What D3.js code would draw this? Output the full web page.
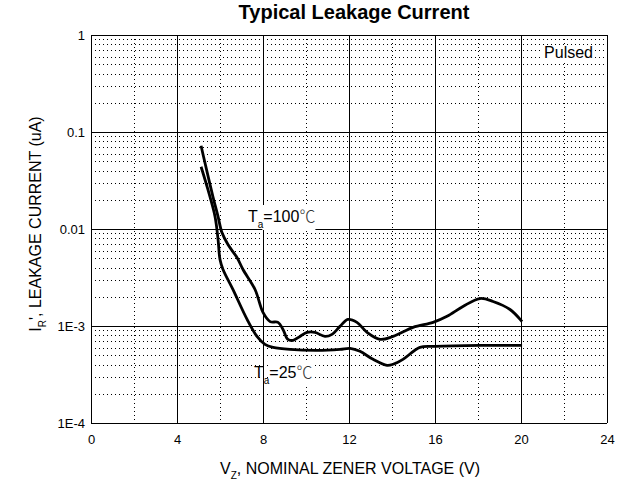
<!DOCTYPE html>
<html><head><meta charset="utf-8">
<script src="https://cdn.jsdelivr.net/npm/d3@7"></script>
<style>body{margin:0;background:#fff}svg{display:block;font-family:"Liberation Sans",Arial,sans-serif}</style>
</head><body>
<svg id="c" width="625" height="480"></svg>
<script>
const xTicks = [0, 4, 8, 12, 16, 20, 24];
const xMinorTicks = [2, 6, 10, 14, 18, 22];
const yTicks = [1e-4, 1e-3, 1e-2, 1e-1, 1];
const yTickLabels = ["1E-4", "1E-3", "0.01", "0.1", "1"];

const v100 = [5.12,5.30,5.67,5.91,6.09,6.37,6.79,7.07,7.63,8.00,8.33,8.70,8.93,9.16,9.40,9.72,10.05,10.42,10.88,11.21,11.58,11.95,12.37,12.84,13.44,14.05,14.98,15.91,16.56,17.30,18.09,18.70,19.49,20.05];
const i100 = [0.0721,0.0482,0.0216,0.0134,0.00918,0.00691,0.00508,0.00382,0.00238,0.00138,0.00111,0.00109,0.000922,0.000728,0.000711,0.000781,0.000859,0.000859,0.000781,0.000820,0.000991,0.00117,0.00109,0.000859,0.000728,0.000781,0.000968,0.00109,0.00126,0.00159,0.00192,0.00179,0.00148,0.00111];
const v25 = [5.12,5.44,5.77,5.91,6.00,6.14,6.60,7.26,7.72,8.09,8.47,9.26,10.51,11.58,12.05,12.51,13.12,13.77,14.05,14.51,15.30,16.00,18.09,20.05];
const i25 = [0.0438,0.0254,0.0134,0.00778,0.00484,0.00382,0.00238,0.00117,0.000781,0.000647,0.000603,0.000574,0.000561,0.000574,0.000588,0.000548,0.000453,0.000393,0.000403,0.000453,0.000603,0.000617,0.000631,0.000631];

const FONT = "'Liberation Sans', Arial, sans-serif";
const CJK = "'Noto Sans CJK SC', sans-serif";
const svg = d3.select("#c");
const x = d3.scaleLinear().domain([0, 24]).range([91, 607]);
const y = d3.scaleLog().domain([1e-4, 1]).range([423, 35]);

const grid = svg.append("g");
const labels = svg.append("g");
const marks = svg.append("g");

const minorY = [];
for (let d = -4; d < 0; d++) for (let k = 2; k <= 9; k++) minorY.push(k * Math.pow(10, d));
grid.selectAll("line.my").data(minorY).enter().append("line")
  .attr("x1", x(0)).attr("x2", x(24))
  .attr("y1", d => Math.round(y(d)) + 0.5).attr("y2", d => Math.round(y(d)) + 0.5)
  .attr("stroke", "#000").attr("stroke-width", 1).attr("stroke-dasharray", "1,3");
grid.selectAll("line.mx").data(xMinorTicks).enter().append("line")
  .attr("y1", y(1)).attr("y2", y(1e-4))
  .attr("x1", d => Math.round(x(d)) + 0.5).attr("x2", d => Math.round(x(d)) + 0.5)
  .attr("stroke", "#000").attr("stroke-width", 1).attr("stroke-dasharray", "1,3");
grid.selectAll("line.Mx").data(xTicks).enter().append("line")
  .attr("y1", y(1)).attr("y2", y(1e-4))
  .attr("x1", d => Math.round(x(d)) + 0.5).attr("x2", d => Math.round(x(d)) + 0.5)
  .attr("stroke", "#000").attr("stroke-width", 1);
grid.selectAll("line.My").data(yTicks).enter().append("line")
  .attr("x1", x(0)).attr("x2", x(24))
  .attr("y1", d => Math.round(y(d)) + 0.5).attr("y2", d => Math.round(y(d)) + 0.5)
  .attr("stroke", "#000").attr("stroke-width", 1);

const xAxis = d3.axisBottom(x).tickValues(xTicks).tickSize(0).tickPadding(12).tickFormat(d3.format("d"));
svg.append("g").attr("transform", `translate(0,${y(1e-4)})`).call(xAxis)
  .call(a => a.select(".domain").remove())
  .selectAll("text").attr("font-size", 13).attr("font-family", FONT).attr("fill", "#000");
const yAxis = d3.axisLeft(y).tickValues(yTicks).tickSize(0).tickPadding(6)
  .tickFormat((d, i) => yTickLabels[i]);
svg.append("g").attr("transform", `translate(${x(0)},0)`).call(yAxis)
  .call(a => a.select(".domain").remove())
  .selectAll("text").attr("font-size", 13).attr("font-family", FONT).attr("fill", "#000");

function tempLabel(px, py, temp) {
  const bg = labels.append("rect").attr("fill", "#fff");
  const t = labels.append("text").attr("x", px).attr("y", py).attr("font-size", 16).attr("font-family", FONT).attr("fill", "#000");
  t.append("tspan").text("T");
  t.append("tspan").attr("dy", 6).attr("font-size", 10).text("a");
  const eq = t.append("tspan").attr("dy", -6).text("=" + temp);
  t.append("tspan").attr("font-family", CJK).attr("font-weight", 300).attr("fill", "#333").text("℃");
  const bb = t.node().getBBox();
  const eb = eq.node().getBBox();
  bg.attr("x", eb.x - 1).attr("y", bb.y + 2).attr("width", bb.x + bb.width - eb.x + 1).attr("height", bb.height - 2);
}
tempLabel(248, 222, "100");
tempLabel(254, 378, "25");

const pbg = labels.append("rect").attr("fill", "#fff");
const pt = labels.append("text").attr("x", 593).attr("y", 58).attr("text-anchor", "end").attr("font-size", 16).attr("font-family", FONT).text("Pulsed");
const pb = pt.node().getBBox();
pbg.attr("x", pb.x - 2).attr("y", pb.y + 1).attr("width", pb.width + 4).attr("height", pb.height - 1);

const line = d3.line().x(d => x(d[0])).y(d => y(d[1])).curve(d3.curveCatmullRom.alpha(0.5));
marks.append("path").datum(v100.map((v, i) => [v, i100[i]])).attr("d", line)
  .attr("fill", "none").attr("stroke", "#000").attr("stroke-width", 2.8);
marks.append("path").datum(v25.map((v, i) => [v, i25[i]])).attr("d", line)
  .attr("fill", "none").attr("stroke", "#000").attr("stroke-width", 2.8);

svg.append("text").attr("x", 354).attr("y", 19).attr("text-anchor", "middle").attr("font-family", FONT)
  .attr("font-size", 20).attr("font-weight", "bold").text("Typical Leakage Current");

const xl = svg.append("text").attr("x", 350).attr("y", 474).attr("text-anchor", "middle").attr("font-size", 16).attr("font-family", FONT);
xl.append("tspan").text("V");
xl.append("tspan").attr("dy", 5).attr("font-size", 10).text("Z");
xl.append("tspan").attr("dy", -5).text(", NOMINAL ZENER VOLTAGE (V)");

const yl = svg.append("text").attr("transform", "translate(41,224) rotate(-90)").attr("text-anchor", "middle").attr("font-size", 16).attr("font-family", FONT);
yl.append("tspan").text("I");
yl.append("tspan").attr("dy", 5).attr("font-size", 10).text("R");
yl.append("tspan").attr("dy", -5).text("', LEAKAGE CURRENT (uA)");
</script>
</body></html>
